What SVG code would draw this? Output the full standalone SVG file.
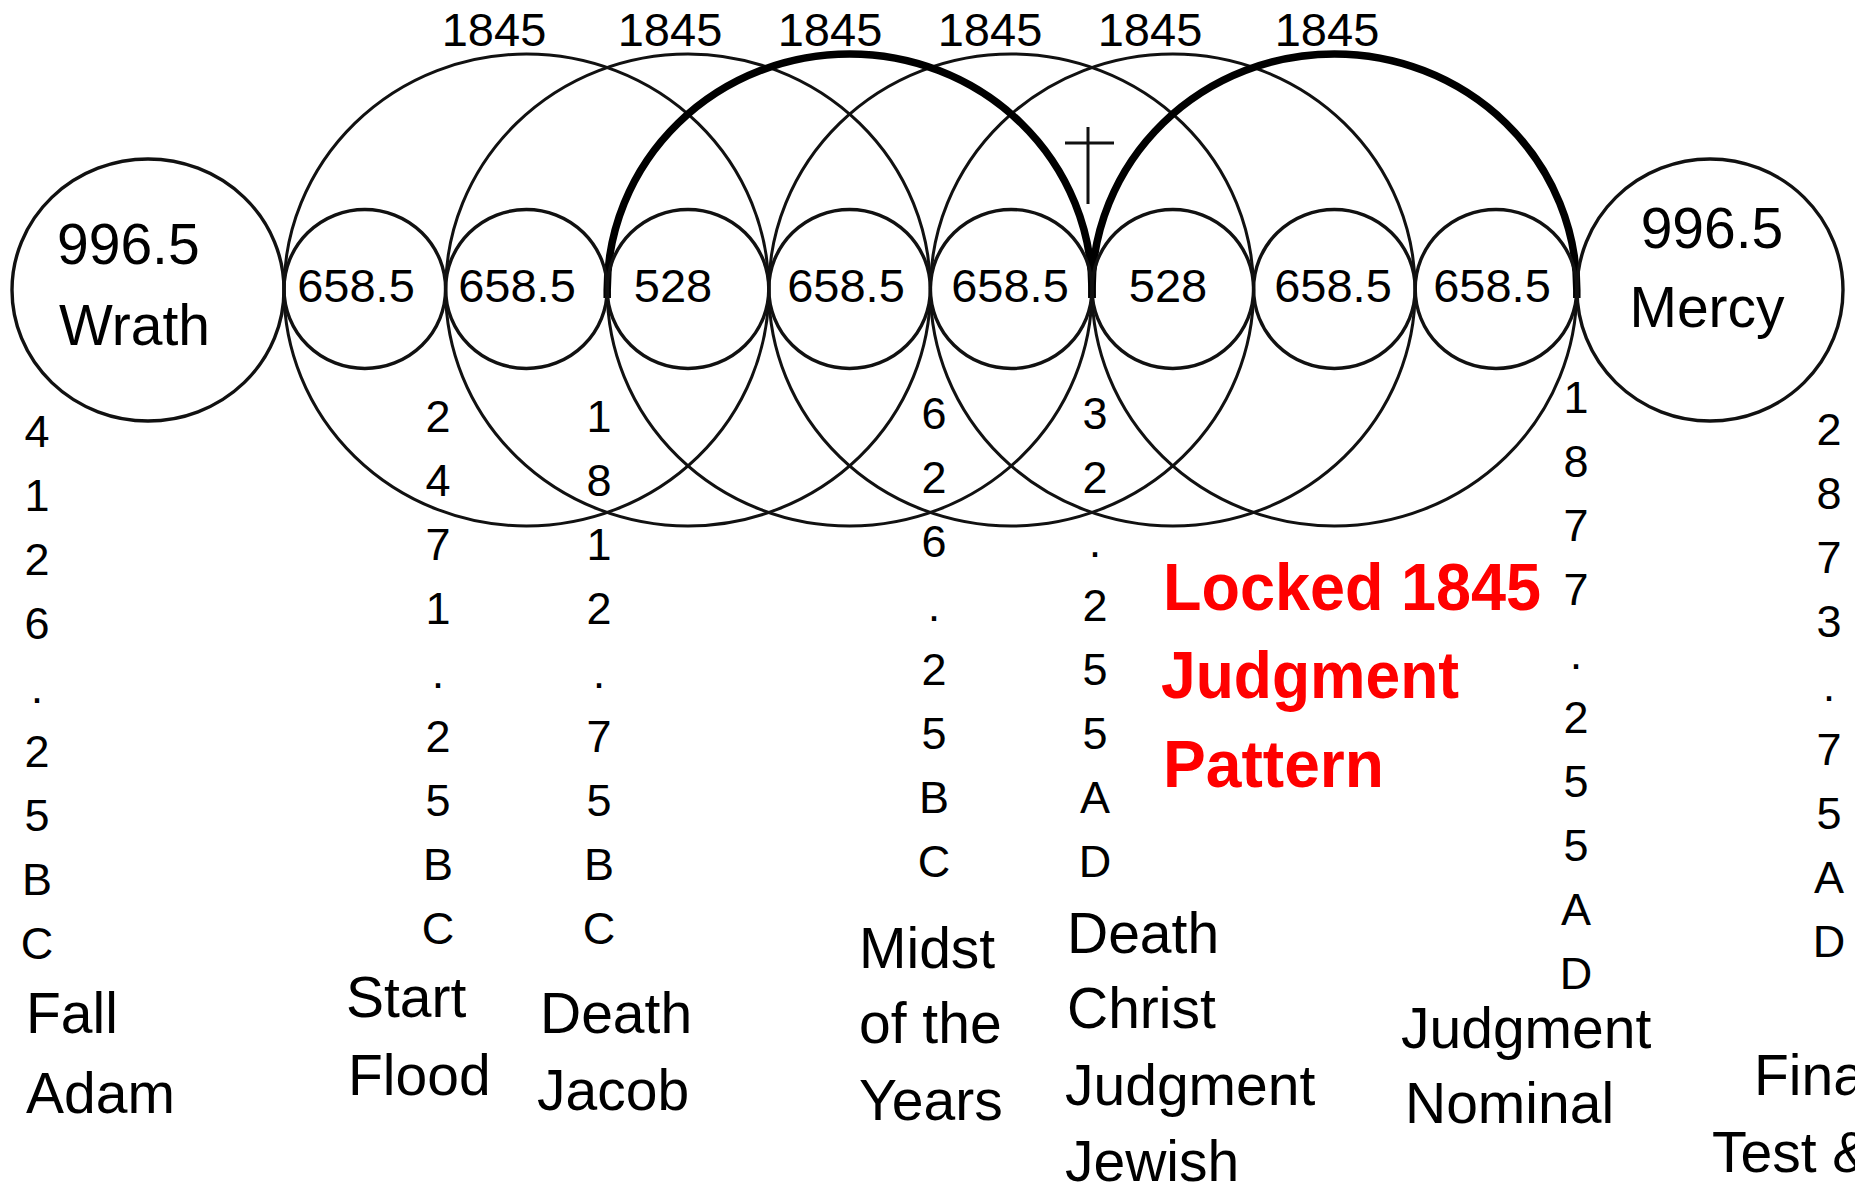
<svg xmlns="http://www.w3.org/2000/svg" width="1855" height="1189" viewBox="0 0 1855 1189">
<style>
.c{fill:none;stroke:#111;stroke-width:3.4}
.b{fill:none;stroke:#111;stroke-width:3}
.k{fill:none;stroke:#000;stroke-width:7.5}
.t{font-family:"Liberation Sans",Arial,sans-serif;fill:#000}
.n{font-size:47px;text-anchor:middle}
.big{font-size:57px}
.col{font-size:45px;text-anchor:middle}
.lab{font-size:57px}
.red{font-family:"Liberation Sans",Arial,sans-serif;font-weight:bold;font-size:66px;fill:#ff0000}
</style>
<rect width="1855" height="1189" fill="#fff"/>
<g id="connectors">
<ellipse class="b" cx="526.4" cy="290" rx="242.4" ry="236"/>
<ellipse class="b" cx="688" cy="290" rx="242.4" ry="236"/>
<ellipse class="b" cx="849.6" cy="290" rx="242.4" ry="236"/>
<ellipse class="b" cx="1011.2" cy="290" rx="242.4" ry="236"/>
<ellipse class="b" cx="1172.8" cy="290" rx="242.4" ry="236"/>
<ellipse class="b" cx="1334.4" cy="290" rx="242.4" ry="236"/>
<path class="k" d="M 607.2 298 L 607.2 290 A 242.4 236 0 0 1 1092 290 L 1092 298"/>
<path class="k" d="M 1092 298 L 1092 290 A 242.4 236 0 0 1 1576.8 290 L 1576.8 298"/>
<path d="M 1088 127 L 1088 204 M 1065 143 L 1114 143" fill="none" stroke="#111" stroke-width="3"/>
</g>
<g id="labels1845" class="t n">
<text x="494" y="46">1845</text>
<text x="670" y="46">1845</text>
<text x="830" y="46">1845</text>
<text x="990" y="46">1845</text>
<text x="1150" y="46">1845</text>
<text x="1327" y="46">1845</text>
</g>
<g id="wrath">
<ellipse class="c" cx="148" cy="290" rx="136" ry="131"/>
<text class="t big" x="57" y="264">996.5</text>
<text class="t big" x="59" y="345">Wrath</text>
</g>
<g id="mercy">
<ellipse class="c" cx="1710" cy="290" rx="133" ry="131"/>
<text class="t big" x="1712" y="248" text-anchor="middle">996.5</text>
<text class="t big" x="1707" y="327" text-anchor="middle">Mercy</text>
</g>
<g id="s1"><ellipse class="c" cx="364.8" cy="289" rx="80.8" ry="79.5"/><text class="t n" x="356" y="302">658.5</text></g>
<g id="s2"><ellipse class="c" cx="526.4" cy="289" rx="80.8" ry="79.5"/><text class="t n" x="517" y="302">658.5</text></g>
<g id="s3"><ellipse class="c" cx="688" cy="289" rx="80.8" ry="79.5"/><text class="t n" x="673" y="302">528</text></g>
<g id="s4"><ellipse class="c" cx="849.6" cy="289" rx="80.8" ry="79.5"/><text class="t n" x="846" y="302">658.5</text></g>
<g id="s5"><ellipse class="c" cx="1011.2" cy="289" rx="80.8" ry="79.5"/><text class="t n" x="1010" y="302">658.5</text></g>
<g id="s6"><ellipse class="c" cx="1172.8" cy="289" rx="80.8" ry="79.5"/><text class="t n" x="1168" y="302">528</text></g>
<g id="s7"><ellipse class="c" cx="1334.4" cy="289" rx="80.8" ry="79.5"/><text class="t n" x="1333" y="302">658.5</text></g>
<g id="s8"><ellipse class="c" cx="1496" cy="289" rx="80.8" ry="79.5"/><text class="t n" x="1492" y="302">658.5</text></g>
<g id="col-fall" class="t col">
<text x="37" y="447">4</text><text x="37" y="511">1</text><text x="37" y="575">2</text><text x="37" y="639">6</text><text x="37" y="703">.</text><text x="37" y="767">2</text><text x="37" y="831">5</text><text x="37" y="895">B</text><text x="37" y="959">C</text>
<text class="lab" x="26" y="1033" text-anchor="start">Fall</text>
<text class="lab" x="26" y="1113" text-anchor="start">Adam</text>
</g>
<g id="col-flood" class="t col">
<text x="438" y="432">2</text><text x="438" y="496">4</text><text x="438" y="560">7</text><text x="438" y="624">1</text><text x="438" y="688">.</text><text x="438" y="752">2</text><text x="438" y="816">5</text><text x="438" y="880">B</text><text x="438" y="944">C</text>
<text class="lab" x="346" y="1017" text-anchor="start">Start</text>
<text class="lab" x="348" y="1095" text-anchor="start">Flood</text>
</g>
<g id="col-jacob" class="t col">
<text x="599" y="432">1</text><text x="599" y="496">8</text><text x="599" y="560">1</text><text x="599" y="624">2</text><text x="599" y="688">.</text><text x="599" y="752">7</text><text x="599" y="816">5</text><text x="599" y="880">B</text><text x="599" y="944">C</text>
<text class="lab" x="540" y="1033" text-anchor="start">Death</text>
<text class="lab" x="537" y="1110" text-anchor="start">Jacob</text>
</g>
<g id="col-midst" class="t col">
<text x="934" y="429">6</text><text x="934" y="493">2</text><text x="934" y="557">6</text><text x="934" y="621">.</text><text x="934" y="685">2</text><text x="934" y="749">5</text><text x="934" y="813">B</text><text x="934" y="877">C</text>
<text class="lab" x="859" y="968" text-anchor="start">Midst</text>
<text class="lab" x="859" y="1043" text-anchor="start">of the</text>
<text class="lab" x="859" y="1120" text-anchor="start">Years</text>
</g>
<g id="col-christ" class="t col">
<text x="1095" y="429">3</text><text x="1095" y="493">2</text><text x="1095" y="557">.</text><text x="1095" y="621">2</text><text x="1095" y="685">5</text><text x="1095" y="749">5</text><text x="1095" y="813">A</text><text x="1095" y="877">D</text>
<text class="lab" x="1067" y="953" text-anchor="start">Death</text>
<text class="lab" x="1067" y="1028" text-anchor="start">Christ</text>
<text class="lab" x="1065" y="1105" text-anchor="start">Judgment</text>
<text class="lab" x="1065" y="1181" text-anchor="start">Jewish</text>
</g>
<g id="locked">
<text class="red" x="1163" y="610" textLength="378" lengthAdjust="spacingAndGlyphs">Locked 1845</text>
<text class="red" x="1161" y="698" textLength="298" lengthAdjust="spacingAndGlyphs">Judgment</text>
<text class="red" x="1163" y="787" textLength="221" lengthAdjust="spacingAndGlyphs">Pattern</text>
</g>
<g id="col-nominal" class="t col">
<text x="1576" y="413">1</text><text x="1576" y="477">8</text><text x="1576" y="541">7</text><text x="1576" y="605">7</text><text x="1576" y="669">.</text><text x="1576" y="733">2</text><text x="1576" y="797">5</text><text x="1576" y="861">5</text><text x="1576" y="925">A</text><text x="1576" y="989">D</text>
<text class="lab" x="1401" y="1048" text-anchor="start">Judgment</text>
<text class="lab" x="1405" y="1123" text-anchor="start">Nominal</text>
</g>
<g id="col-final" class="t col">
<text x="1829" y="445">2</text><text x="1829" y="509">8</text><text x="1829" y="573">7</text><text x="1829" y="637">3</text><text x="1829" y="701">.</text><text x="1829" y="765">7</text><text x="1829" y="829">5</text><text x="1829" y="893">A</text><text x="1829" y="957">D</text>
<text class="lab" x="1754" y="1095" text-anchor="start">Fina</text>
<text class="lab" x="1712" y="1172" text-anchor="start">Test &amp;</text>
</g>
</svg>
